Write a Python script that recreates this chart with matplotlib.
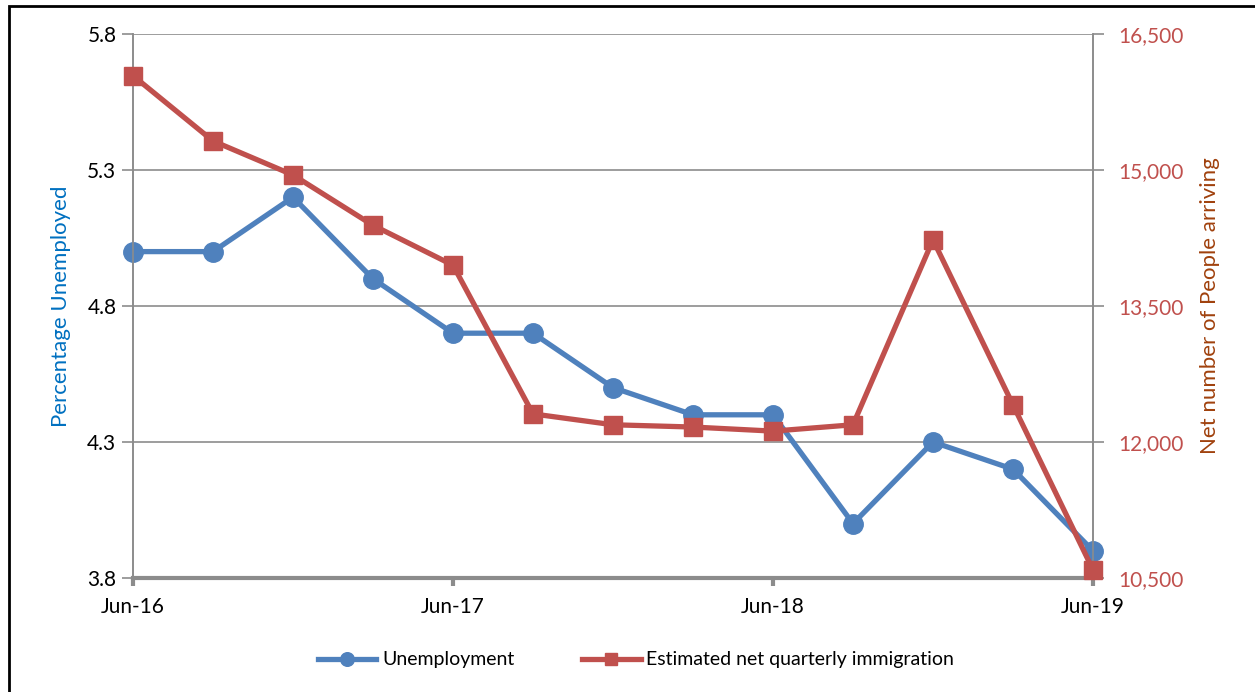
import matplotlib
matplotlib.use("Agg")
import matplotlib.pyplot as plt
from matplotlib.patches import Rectangle

# Quarterly observations, Jun-16 to Jun-19
quarters = ["Jun-16", "Sep-16", "Dec-16", "Mar-17", "Jun-17", "Sep-17", "Dec-17",
            "Mar-18", "Jun-18", "Sep-18", "Dec-18", "Mar-19", "Jun-19"]
unemployment = [5.0, 5.0, 5.2, 4.9, 4.7, 4.7, 4.5, 4.4, 4.4, 4.0, 4.3, 4.2, 3.9]
immigration = [16040, 15320, 14945, 14390, 13950, 12310, 12190, 12165, 12120,
               12190, 14230, 12410, 10590]

left_ticks = [3.8, 4.3, 4.8, 5.3, 5.8]
right_ticks = [10500, 12000, 13500, 15000, 16500]
x_label_every = 4

BLUE = "#4F81BD"
RED = "#C0504D"
GRID = "#8C8C8C"

plt.rcParams["font.family"] = ["Lato", "DejaVu Sans"]

fig = plt.figure(figsize=(12.55, 6.92), dpi=100)
ax = fig.add_axes([133 / 1255, 1 - 578 / 692, (1093 - 133) / 1255, (578 - 34) / 692])
ax2 = ax.twinx()

x = list(range(len(quarters)))

ax.plot(x, unemployment, color=BLUE, lw=3.8, marker="o", ms=14,
        label="Unemployment", zorder=3, clip_on=False)
ax2.plot(x, immigration, color=RED, lw=3.8, marker="s", ms=13,
         label="Estimated net quarterly immigration", zorder=3, clip_on=False)

ax.set_xlim(0, len(quarters) - 1)
ax.set_ylim(left_ticks[0], left_ticks[-1])
ax2.set_ylim(right_ticks[0], right_ticks[-1])

ax.set_yticks(left_ticks)
ax.set_yticklabels([f"{v:.1f}" for v in left_ticks], fontsize=15, color="black")
ax2.set_yticks(right_ticks)
ax2.set_yticklabels([f"{v:,}" for v in right_ticks], fontsize=15, color=RED)

xt = x[::x_label_every]
ax.set_xticks(xt)
ax.set_xticklabels([quarters[i] for i in xt], fontsize=15)

ax.grid(axis="y", color=GRID, lw=1.2)
ax.set_axisbelow(True)

for a in (ax, ax2):
    for s in a.spines.values():
        s.set_color(GRID)
        s.set_linewidth(1.2)
    a.spines["top"].set_visible(False)
ax.spines["bottom"].set_linewidth(3)
ax2.spines["bottom"].set_visible(False)

ax.tick_params(axis="y", length=8, width=1.2, color=GRID, pad=4)
ax2.tick_params(axis="y", length=8, width=1.2, color=GRID, pad=10)
ax.tick_params(axis="x", length=6, width=3, color=GRID, pad=8)

ax.set_ylabel("Percentage Unemployed", fontsize=16, color="#0070C0", labelpad=12)
ax2.set_ylabel("Net number of People arriving", fontsize=16, color="#A0410D", labelpad=12)

h1, l1 = ax.get_legend_handles_labels()
h2, l2 = ax2.get_legend_handles_labels()
leg = fig.legend(h1 + h2, l1 + l2, loc="center", bbox_to_anchor=(636 / 1255, 1 - 660 / 692),
                 ncol=2, frameon=False, fontsize=14, handlelength=3.0, markerscale=0.7,
                 columnspacing=3.5, handletextpad=0.3)

fig.patches.append(Rectangle((9 / 1255, -0.1), 1.2, 1 - 6 / 692 + 0.1,
                             transform=fig.transFigure, fill=False,
                             edgecolor="black", lw=2))

fig.savefig("out.png", dpi=100)
